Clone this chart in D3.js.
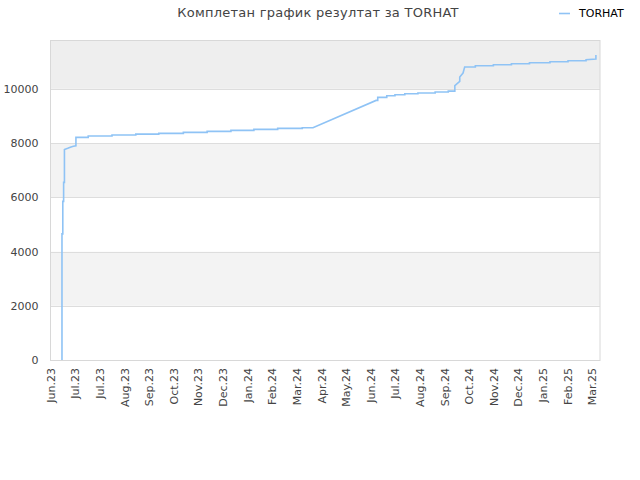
<!DOCTYPE html>
<html>
<head>
<meta charset="utf-8">
<script src="https://cdn.jsdelivr.net/npm/d3@7"></script>
<style>
  body { margin: 0; background: #fff; }
  text { font-family: "DejaVu Sans", sans-serif; }
</style>
</head>
<body>
<script>
// データ
const seriesName = "TORHAT";
const titleText = "Комплетан график резултат за TORHAT";

// 日付と値 (同じ日付が二回 = 垂直の段差)
const dates = [
  "2023-06-15", "2023-06-15", "2023-06-16", "2023-06-16", "2023-06-17", "2023-06-17",
  "2023-06-18", "2023-06-18", "2023-06-22", "2023-06-26", "2023-06-29", "2023-07-02",
  "2023-07-02", "2023-07-17", "2023-07-17", "2023-08-15", "2023-08-15", "2023-09-13",
  "2023-09-13", "2023-10-11", "2023-10-11", "2023-11-10", "2023-11-10", "2023-12-09",
  "2023-12-09", "2024-01-07", "2024-01-07", "2024-02-04", "2024-02-04", "2024-03-04",
  "2024-03-04", "2024-04-03", "2024-04-03", "2024-04-16", "2024-07-02", "2024-07-04",
  "2024-07-04", "2024-07-15", "2024-07-15", "2024-07-25", "2024-07-25", "2024-08-06",
  "2024-08-06", "2024-08-22", "2024-08-22", "2024-09-12", "2024-09-12", "2024-09-28",
  "2024-09-28", "2024-10-06", "2024-10-06", "2024-10-12", "2024-10-12", "2024-10-16",
  "2024-10-18", "2024-10-31", "2024-10-31", "2024-11-22", "2024-11-22", "2024-12-14",
  "2024-12-14", "2025-01-05", "2025-01-05", "2025-01-30", "2025-01-30", "2025-02-21",
  "2025-02-21", "2025-03-15", "2025-03-15", "2025-03-27", "2025-03-27"
];
const values = [
  0, 4650, 4650, 5850, 5850, 6550,
  6550, 7760, 7805, 7856, 7880, 7900,
  8210, 8210, 8262, 8262, 8298, 8298,
  8330, 8330, 8357, 8357, 8394, 8394,
  8431, 8431, 8468, 8468, 8505, 8505,
  8541, 8541, 8567, 8567, 9573, 9573,
  9683, 9683, 9746, 9746, 9783, 9783,
  9820, 9820, 9845, 9845, 9882, 9882,
  9915, 9915, 10114, 10272, 10435, 10582,
  10803, 10803, 10851, 10851, 10888, 10888,
  10925, 10925, 10961, 10961, 10998, 10998,
  11035, 11035, 11072, 11098, 11245
];

// 軸の目盛り
const yTicks = [0, 2000, 4000, 6000, 8000, 10000];
const xTickDates = [
  "2023-06-01", "2023-07-01", "2023-07-31", "2023-08-30", "2023-09-29", "2023-10-29",
  "2023-11-28", "2023-12-28", "2024-01-27", "2024-02-26", "2024-03-27", "2024-04-26",
  "2024-05-26", "2024-06-25", "2024-07-25", "2024-08-24", "2024-09-23", "2024-10-23",
  "2024-11-22", "2024-12-22", "2025-01-21", "2025-02-20", "2025-03-22"
];

const width = 640;
const height = 480;
const plotLeft = 50.5, plotRight = 600, plotTop = 40, plotBottom = 360;

const parse = d3.timeParse("%Y-%m-%d");
const fmt = d3.timeFormat("%b.%y");
const data = dates.map((d, i) => ({ date: parse(d), value: values[i] }));

const svg = d3.select("body").append("svg")
  .attr("width", width).attr("height", height);

// スケール
const x = d3.scaleTime()
  .domain([parse("2023-06-01"), parse("2025-04-01")])
  .range([plotLeft, plotRight]);

const y = d3.scaleLinear()
  .domain([0, 11800])
  .range([plotBottom, plotTop]);

// 背景の帯
const bands = yTicks.map((t, i) => ({ from: t, to: i < yTicks.length - 1 ? yTicks[i + 1] : y.domain()[1], i }));
svg.append("g").selectAll("rect")
  .data(bands)
  .enter().append("rect")
  .attr("x", plotLeft)
  .attr("width", plotRight - plotLeft)
  .attr("y", d => y(d.to))
  .attr("height", d => y(d.from) - y(d.to))
  .attr("fill", d => d.i === bands.length - 1 ? "#eeeeee" : (d.i % 2 === 1 ? "#f3f3f3" : "#ffffff"));

// グリッド線
svg.append("g").selectAll("line")
  .data(yTicks.slice(1))
  .enter().append("line")
  .attr("x1", plotLeft).attr("x2", plotRight)
  .attr("y1", d => Math.round(y(d)) + 0.5)
  .attr("y2", d => Math.round(y(d)) + 0.5)
  .attr("stroke", "#dddddd");

// 枠
svg.append("rect")
  .attr("x", plotLeft).attr("y", plotTop + 0.5)
  .attr("width", plotRight - plotLeft).attr("height", plotBottom - plotTop)
  .attr("fill", "none")
  .attr("stroke", "#d8d8d8");

// Y軸
const yAxis = svg.append("g")
  .attr("transform", "translate(" + (plotLeft - 12) + ",0)")
  .call(d3.axisLeft(y).tickValues(yTicks).tickSize(0).tickPadding(0).tickFormat(d3.format("d")));
yAxis.select(".domain").remove();
yAxis.selectAll("text")
  .attr("fill", "#444")
  .style("font-size", "11px")
  .style("font-family", "DejaVu Sans, sans-serif");

// X軸
const xAxis = svg.append("g")
  .attr("transform", "translate(0," + plotBottom + ")")
  .call(d3.axisBottom(x).tickValues(xTickDates.map(parse)).tickSize(0).tickFormat(fmt));
xAxis.select(".domain").remove();
xAxis.selectAll("text")
  .attr("fill", "#444")
  .style("font-size", "11px")
  .style("font-family", "DejaVu Sans, sans-serif")
  .attr("text-anchor", "end")
  .attr("dy", "0.35em")
  .attr("transform", "translate(0,8) rotate(-90)")
  .attr("x", 0).attr("y", 0);

// ライン
const line = d3.line()
  .x(d => x(d.date))
  .y(d => y(d.value));

svg.append("path")
  .datum(data)
  .attr("fill", "none")
  .attr("stroke", "#8fc3f5")
  .attr("stroke-width", 1.6)
  .attr("d", line);

// タイトル
svg.append("text")
  .attr("x", 318).attr("y", 17)
  .attr("text-anchor", "middle")
  .attr("fill", "#444")
  .style("font-size", "13px")
  .style("letter-spacing", "0.25px")
  .text(titleText);

// 凡例
svg.append("line")
  .attr("x1", 559).attr("x2", 570)
  .attr("y1", 13.5).attr("y2", 13.5)
  .attr("stroke", "#8fc3f5")
  .attr("stroke-width", 1.6);
svg.append("text")
  .attr("x", 579).attr("y", 17)
  .attr("fill", "#000")
  .style("font-size", "11px")
  .text(seriesName);
</script>
</body>
</html>
